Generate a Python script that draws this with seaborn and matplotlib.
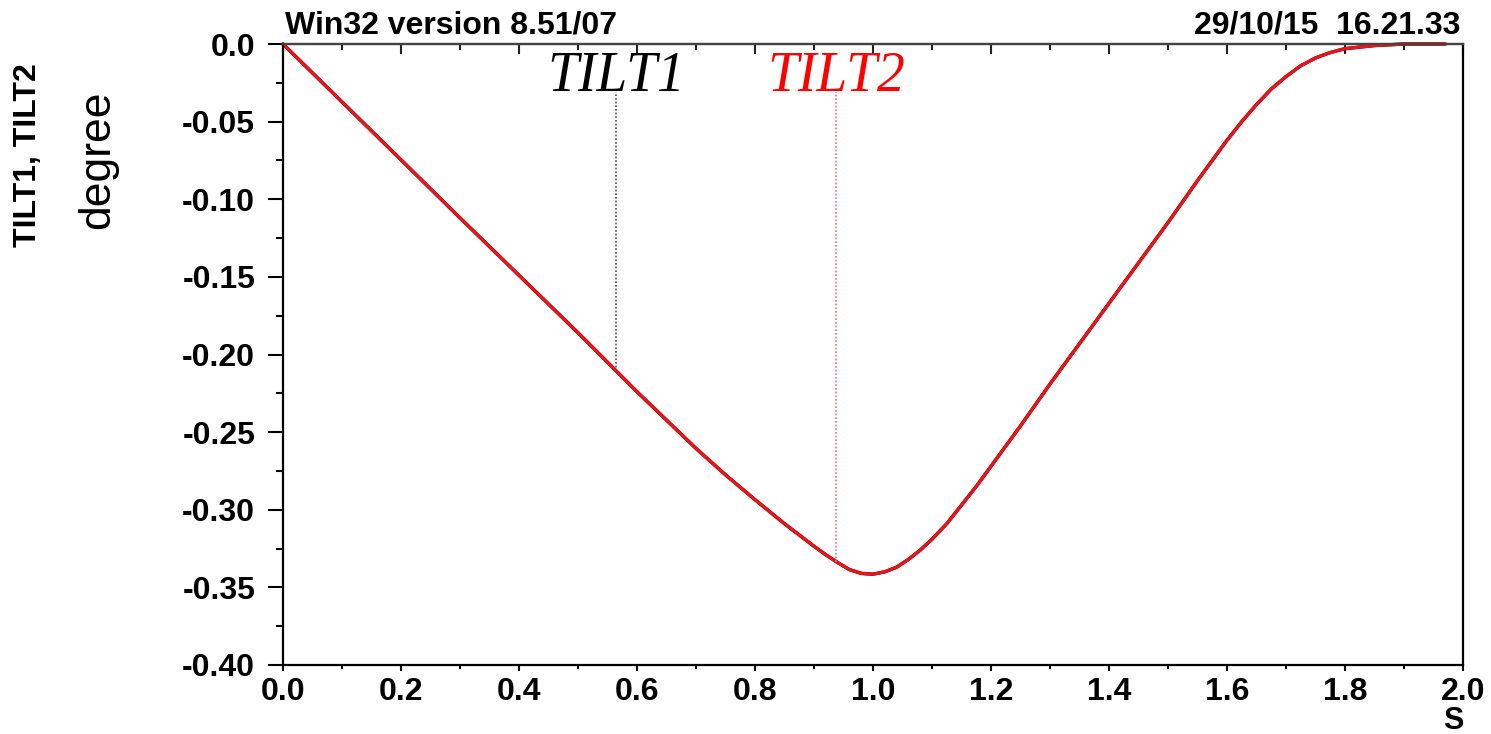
import numpy as np
import pandas as pd
import matplotlib
matplotlib.use("Agg")
import matplotlib.pyplot as plt
import seaborn as sns

# ---- data ----
s_vals = [0.0, 0.1, 0.2, 0.3, 0.4, 0.5, 0.6, 0.7, 0.75, 0.8, 0.85, 0.9, 0.92, 0.94,
          0.96, 0.98, 1.0, 1.02, 1.04, 1.06, 1.08, 1.10, 1.125, 1.15, 1.175, 1.2,
          1.25, 1.3, 1.35, 1.4, 1.45, 1.5, 1.55, 1.6, 1.625, 1.65, 1.675, 1.7,
          1.725, 1.75, 1.775, 1.8, 1.85, 1.9, 1.97]
tilt2 = [0.0, -0.0373, -0.0746, -0.112, -0.149, -0.186, -0.224, -0.2605, -0.2775,
         -0.2935, -0.309, -0.3235, -0.329, -0.334, -0.3385, -0.341, -0.3415, -0.340,
         -0.337, -0.332, -0.326, -0.319, -0.309, -0.297, -0.285, -0.272,
         -0.246, -0.219, -0.193, -0.167, -0.141, -0.115, -0.088, -0.062, -0.050,
         -0.039, -0.029, -0.021, -0.014, -0.009, -0.0055, -0.003, -0.001, 0.0, 0.0]
tilt1 = list(tilt2)  # TILT1 track lies underneath TILT2

marker_names = ["TILT1", "TILT2"]
marker_s = [0.565, 0.938]
marker_text_colors = ["black", "#ff0000"]
marker_line_colors = ["#555555", "#ff7070"]

x_ticks = [0.0, 0.2, 0.4, 0.6, 0.8, 1.0, 1.2, 1.4, 1.6, 1.8, 2.0]
x_tick_labels = ["0.0", "0.2", "0.4", "0.6", "0.8", "1.0", "1.2", "1.4", "1.6", "1.8", "2.0"]
x_minor = [0.1, 0.3, 0.5, 0.7, 0.9, 1.1, 1.3, 1.5, 1.7, 1.9]
y_ticks = [0.0, -0.05, -0.10, -0.15, -0.20, -0.25, -0.30, -0.35, -0.40]
y_tick_labels = ["0.0", "-0.05", "-0.10", "-0.15", "-0.20", "-0.25", "-0.30", "-0.35", "-0.40"]
y_minor = [-0.025, -0.075, -0.125, -0.175, -0.225, -0.275, -0.325, -0.375]

header_left = "Win32 version 8.51/07"
header_right = "29/10/15  16.21.33"
ylabel_top = "TILT1, TILT2"
ylabel_unit = "degree"
xlabel = "S"

df = pd.DataFrame({"s": s_vals, "TILT1": tilt1, "TILT2": tilt2})

sns.set_theme(style="ticks")
plt.rcParams["font.family"] = ["Liberation Sans", "DejaVu Sans"]
plt.rcParams["text.color"] = "black"
plt.rcParams["xtick.color"] = "black"
plt.rcParams["ytick.color"] = "black"

W, H = 1491, 734
fig = plt.figure(figsize=(W / 100, H / 100), dpi=100)
ax = fig.add_axes([283 / W, 1 - 665 / H, (1463 - 283) / W, (665 - 44) / H])

sns.lineplot(data=df, x="s", y="TILT1", color="black", lw=2.4, ax=ax, clip_on=False)
sns.lineplot(data=df, x="s", y="TILT2", color="#e8141a", lw=2.4, ax=ax, clip_on=False)

label_y = -0.031
for name, ms, tc, lc in zip(marker_names, marker_s, marker_text_colors, marker_line_colors):
    y_curve = float(np.interp(ms, s_vals, tilt2))
    ax.plot([ms, ms], [y_curve, label_y], color=lc, lw=1.2, ls=(0, (1, 1.2)))
    ax.text(ms, label_y + 0.001, name, ha="center", va="baseline", fontsize=40,
            family="Liberation Serif", style="italic", color=tc)

ax.set_xlim(0, 2.0)
ax.set_ylim(-0.40, 0.0)
ax.set_xticks(x_ticks, labels=x_tick_labels, fontsize=23, fontweight="bold")
ax.set_xticks(x_minor, minor=True)
ax.set_yticks(y_ticks, labels=y_tick_labels, fontsize=23, fontweight="bold")
ax.set_yticks(y_minor, minor=True)
ax.set_xlabel("")
ax.set_ylabel("")

for sp in ax.spines.values():
    sp.set_visible(True)
    sp.set_linewidth(1.6)
    sp.set_color("black")
ax.spines["top"].set_color("#444444")

ax.tick_params(axis="y", which="major", direction="out", length=11, width=1.5,
               pad=9, left=True, right=False, colors="black")
ax.tick_params(axis="y", which="minor", direction="out", length=5, width=1.5,
               left=True, right=False, color="black")
ax.tick_params(axis="x", which="major", direction="out", length=4, width=1.5,
               pad=5, bottom=True, top=False, colors="black")
ax.tick_params(axis="x", which="minor", direction="out", length=3, width=1.5,
               bottom=True, top=False, color="black")

sec = ax.secondary_xaxis("top")
sec.set_xticks(x_ticks, labels=[""] * len(x_ticks))
sec.set_xticks(x_minor, minor=True)
sec.tick_params(which="major", direction="in", length=7, width=1.5, labeltop=False, color="#222222")
sec.tick_params(which="minor", direction="in", length=4, width=1.5, color="#222222")
sec.spines["top"].set_linewidth(1.6)
sec.spines["top"].set_color("#444444")

fig.text(285 / W, 1 - 33 / H, header_left, ha="left", va="baseline",
         fontsize=23, fontweight="bold", color="black")
fig.text(1460 / W, 1 - 33 / H, header_right, ha="right", va="baseline",
         fontsize=23, fontweight="bold", color="black")
fig.text(28 / W, 1 - 155 / H, ylabel_top, rotation=90, ha="center", va="center",
         fontsize=23, fontweight="bold", color="black")
fig.text(98 / W, 1 - 160 / H, ylabel_unit, rotation=90, ha="center", va="center",
         fontsize=32, color="black")
fig.text(1453 / W, 1 - 721 / H, xlabel, ha="center", va="center",
         fontsize=22, fontweight="bold", color="black")

fig.savefig("out.png", dpi=100, facecolor="white")
